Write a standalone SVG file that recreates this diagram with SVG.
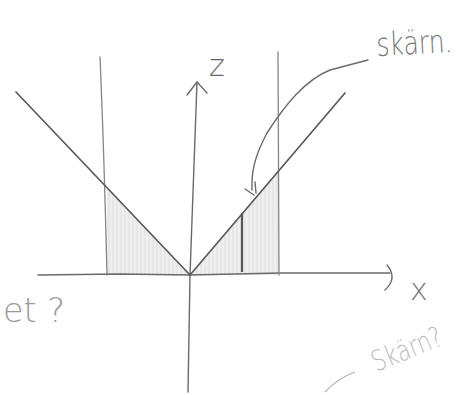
<svg xmlns="http://www.w3.org/2000/svg" width="465" height="395" viewBox="0 0 465 395">
<defs>
<style>
.ax{fill:none;stroke:#6a6a6a;stroke-width:1.4;stroke-linecap:round;stroke-linejoin:round}
.dg{fill:none;stroke:#5a5a5a;stroke-width:1.7;stroke-linecap:round}
.vl{fill:none;stroke:#858585;stroke-width:1.3;stroke-linecap:round}
.hw{font-family:"DejaVu Sans","Liberation Sans",sans-serif;font-weight:300}
</style>
<pattern id="hatch" width="4" height="6" patternUnits="userSpaceOnUse">
<rect width="4" height="6" fill="#efefef"/>
<line x1="1" y1="0" x2="1" y2="6" stroke="#dcdcdc" stroke-width="0.8"/>
</pattern>
</defs>
<rect width="465" height="395" fill="#ffffff"/>

<g id="shading">
<polygon points="107,187 190,275 107,275" fill="url(#hatch)"/>
<polygon points="190,275 279,170 279,275" fill="url(#hatch)"/>
</g>

<g id="axes">
<path class="ax" d="M38,275 L120,274 L190,275 L280,273 L390,273"/>
<path class="ax" d="M387,265 Q398,278 385,290"/>
<path class="ax" d="M188,392 L190,275 L197,82"/>
<path class="ax" d="M187,95 L197,82 L207,93"/>
</g>

<g id="lines">
<path class="vl" d="M100,57 Q104,150 107,275"/>
<path class="vl" d="M278,52 L279,275"/>
<path class="dg" d="M16,92 L190,275"/>
<path class="dg" d="M190,275 L345,93"/>
<path fill="none" stroke="#555" stroke-width="2.2" d="M242,213 L242,272"/>
</g>

<g id="connectors">
<path class="ax" d="M368,60 L330,70 C305,80 285,105 267,133 C257,152 251,168 252,190"/>
<path class="ax" d="M245,189 L254,195 M255,182 L256,193"/>
<path fill="none" stroke="#b5b5b5" stroke-width="1.2" d="M325,392 Q338,378 355,372"/>
</g>

<g id="labels">
<text class="hw" x="209" y="76" font-size="30" fill="#666">z</text>
<text class="hw" x="410" y="300" font-size="30" fill="#777">x</text>
<text class="hw" font-size="25" fill="#777" transform="translate(377 56) rotate(-3) scale(1 1.3)">skärn.</text>
<text class="hw" x="3" y="322" font-size="34" fill="#9a9a9a" textLength="62" lengthAdjust="spacingAndGlyphs">et ?</text>
<text class="hw" font-size="22" fill="#bbbbbb" transform="translate(376 372) rotate(-22) scale(1 1.3)">Skärn?</text>
</g>
</svg>
